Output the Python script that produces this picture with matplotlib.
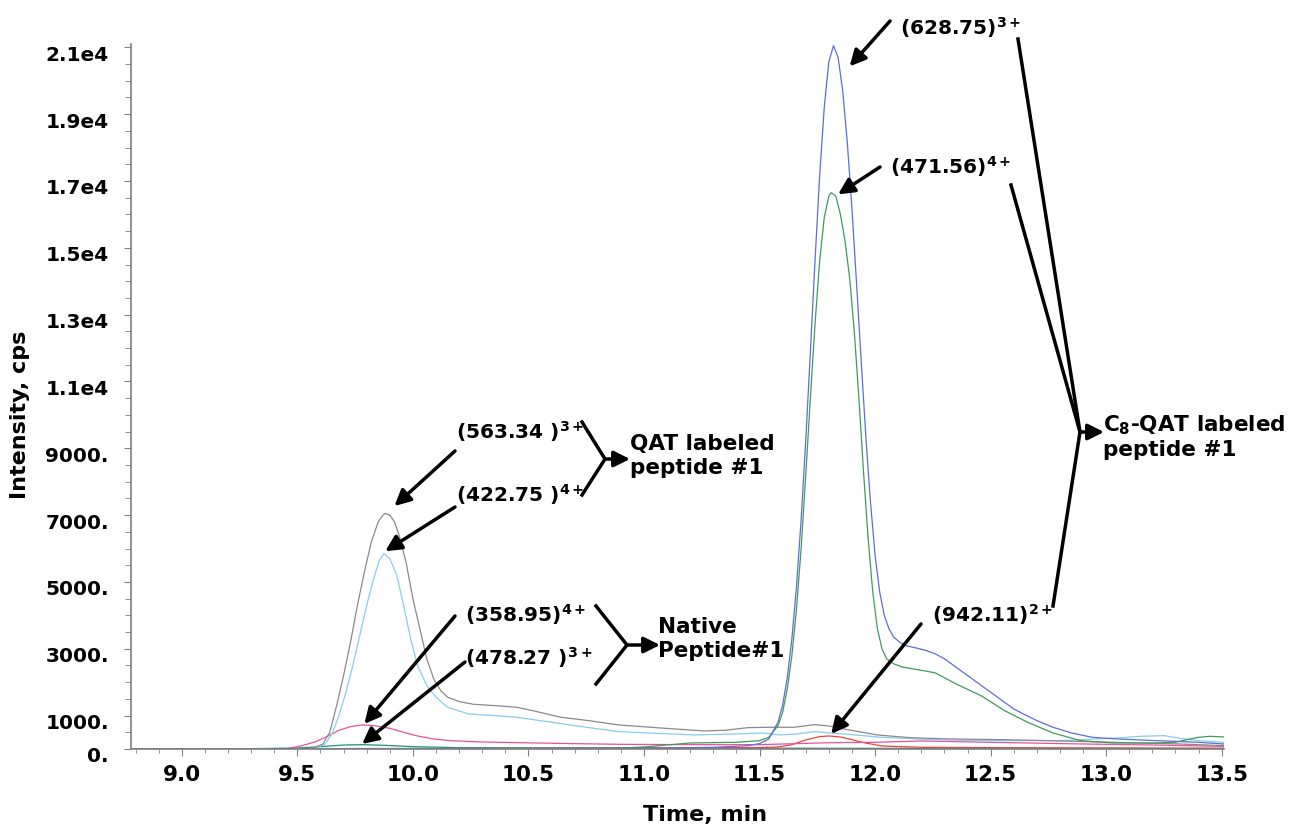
import numpy as np
import matplotlib.pyplot as plt
from matplotlib.lines import Line2D
from matplotlib.ticker import FixedLocator, MultipleLocator
import matplotlib.transforms as mtransforms

plt.rcParams['font.family'] = 'DejaVu Sans'
plt.rcParams['font.weight'] = 'bold'
plt.rcParams['mathtext.default'] = 'bf'

t_gray = [8.78, 9.45, 9.53, 9.57, 9.61, 9.64, 9.67, 9.70, 9.73, 9.76, 9.79, 9.82,
          9.85, 9.87, 9.88, 9.90, 9.92, 9.94, 9.97, 10.00, 10.03, 10.06, 10.09,
          10.12, 10.15, 10.20, 10.26, 10.35, 10.45, 10.53, 10.64, 10.76, 10.89,
          11.07, 11.26, 11.35, 11.45, 11.55, 11.65, 11.74, 11.81, 11.88, 12.01,
          12.15, 12.32, 12.55, 12.75, 13.03, 13.32, 13.51]
i_gray = [0, 0, 10, 30, 150, 500, 1300, 2200, 3200, 4300, 5300, 6200,
          6800, 7000, 7050, 7000, 6800, 6400, 5600, 4500, 3600, 2700, 2100,
          1750, 1550, 1420, 1340, 1300, 1250, 1130, 950, 850, 720,
          630, 540, 560, 640, 650, 650, 730, 680, 580, 420,
          340, 300, 280, 250, 200, 150, 100]

t_cyan = [8.78, 9.50, 9.58, 9.62, 9.65, 9.68, 9.71, 9.74, 9.77, 9.80, 9.83, 9.855,
          9.875, 9.90, 9.93, 9.96, 9.99, 10.02, 10.06, 10.10, 10.15, 10.24, 10.35,
          10.45, 10.60, 10.75, 10.89, 11.05, 11.22, 11.40, 11.51, 11.59, 11.66,
          11.74, 11.81, 11.88, 12.03, 12.25, 12.46, 12.80, 13.05, 13.15, 13.25,
          13.32, 13.40, 13.51]
i_cyan = [0, 0, 20, 150, 450, 1000, 1700, 2500, 3400, 4300, 5100, 5650,
          5850, 5700, 5200, 4300, 3300, 2500, 1900, 1550, 1250, 1050, 1000,
          950, 800, 650, 520, 470, 420, 450, 480, 420, 450,
          520, 480, 440, 350, 280, 250, 250, 330, 380, 400,
          320, 250, 200]

t_pink = [8.78, 9.45, 9.52, 9.58, 9.63, 9.68, 9.73, 9.78, 9.83, 9.90, 9.96, 10.02,
          10.09, 10.16, 10.30, 10.45, 10.70, 10.90, 11.20, 11.50, 11.81, 12.00,
          12.20, 12.50, 12.90, 13.20, 13.51]
i_pink = [0, 0, 100, 220, 380, 560, 670, 720, 700, 620, 500, 390,
          300, 250, 210, 190, 160, 140, 130, 130, 190, 200,
          240, 200, 150, 120, 80]

t_teal = [8.78, 9.30, 9.50, 9.60, 9.70, 9.78, 9.88, 10.00, 10.20, 10.50, 11.00, 12.00, 13.51]
i_teal = [0, 10, 30, 70, 120, 130, 110, 70, 40, 30, 30, 20, 20]

t_blue = [8.78, 9.50, 11.00, 11.30, 11.45, 11.50, 11.54, 11.58, 11.60, 11.62, 11.64,
          11.66, 11.68, 11.70, 11.72, 11.74, 11.76, 11.78, 11.80, 11.82, 11.84,
          11.86, 11.88, 11.90, 11.92, 11.94, 11.96, 11.98, 12.00, 12.02, 12.04,
          12.06, 12.08, 12.11, 12.14, 12.18, 12.22, 12.26, 12.30, 12.35, 12.40,
          12.45, 12.50, 12.55, 12.60, 12.65, 12.70, 12.77, 12.85, 12.94, 13.05,
          13.18, 13.30, 13.40, 13.51]
i_blue = [0, 0, 20, 50, 100, 160, 300, 800, 1320, 2130, 3300,
          4870, 6860, 9240, 11880, 14600, 17130, 19200, 20570, 21050, 20700,
          19700, 18140, 16160, 13920, 11600, 9360, 7400, 5800, 4700, 4000,
          3600, 3350, 3180, 3080, 3020, 2950, 2850, 2700, 2450, 2200,
          1950, 1700, 1450, 1200, 1020, 850, 650, 480, 350, 300,
          260, 230, 200, 150]

t_green = [8.78, 10.90, 11.00, 11.20, 11.40, 11.50, 11.54, 11.58, 11.60, 11.62,
           11.64, 11.66, 11.68, 11.70, 11.72, 11.74, 11.76, 11.78, 11.80, 11.81,
           11.83, 11.85, 11.87, 11.89, 11.91, 11.93, 11.95, 11.97, 11.99, 12.01,
           12.03, 12.05, 12.08, 12.12, 12.18, 12.26, 12.35, 12.46, 12.56, 12.66,
           12.77, 12.89, 13.03, 13.20, 13.30, 13.35, 13.40, 13.45, 13.51]
i_green = [0, 30, 60, 180, 200, 250, 350, 700, 1100, 1800,
           2800, 4200, 6000, 8200, 10500, 12700, 14600, 15900, 16550, 16650,
           16550, 16000, 15200, 14100, 12500, 10500, 8300, 6300, 4700, 3600,
           3000, 2700, 2550, 2450, 2380, 2280, 1950, 1590, 1150, 800,
           480, 250, 180, 180, 200, 280, 350, 380, 360]

t_red = [8.78, 10.00, 11.00, 11.50, 11.58, 11.64, 11.70, 11.76, 11.80, 11.85,
         11.90, 11.95, 12.03, 12.20, 12.50, 13.51]
i_red = [0, 10, 30, 40, 60, 130, 270, 370, 390, 360,
         280, 190, 90, 50, 40, 20]

y_ticks = [0, 1000, 3000, 5000, 7000, 9000, 11000, 13000, 15000, 17000, 19000, 21000]
y_labels = ['0.', '1000.', '3000.', '5000.', '7000.', '9000.', '1.1e4', '1.3e4',
            '1.5e4', '1.7e4', '1.9e4', '2.1e4']
x_ticks = [9.0, 9.5, 10.0, 10.5, 11.0, 11.5, 12.0, 12.5, 13.0, 13.5]
x_labels = ['9.0', '9.5', '10.0', '10.5', '11.0', '11.5', '12.0', '12.5', '13.0', '13.5']

########################################################################

W, H = 1294, 829
fig = plt.figure(figsize=(W/100, H/100), dpi=100)
ax = fig.add_axes([131/W, 79/H, (1224-131)/W, (750-45)/H])

# Curvas (ordem de desenho semelhante ao original).
ax.plot(t_teal, i_teal, color='#1f8f80', lw=0.9)
ax.plot(t_red, i_red, color='#e8443a', lw=0.9)
ax.plot(t_pink, i_pink, color='#e8529a', lw=0.9)
ax.plot(t_cyan, i_cyan, color='#87cdf0', lw=0.9)
ax.plot(t_gray, i_gray, color='#8a8a8a', lw=0.9)
ax.plot(t_green, i_green, color='#3d9b5c', lw=0.9)
ax.plot(t_blue, i_blue, color='#5b6fd6', lw=0.9)

ax.set_xlim(8.78, 13.51)
ax.set_ylim(0, 21100)

for s in ['top', 'right']:
  ax.spines[s].set_visible(False)
for s in ['left', 'bottom']:
  ax.spines[s].set_color('#808080')
  ax.spines[s].set_linewidth(1.2)

ax.yaxis.set_major_locator(FixedLocator(y_ticks))
ax.set_yticklabels(y_labels)
ax.yaxis.set_minor_locator(MultipleLocator(500))
ax.xaxis.set_major_locator(FixedLocator(x_ticks))
ax.set_xticklabels(x_labels)
ax.xaxis.set_minor_locator(MultipleLocator(0.1))

ax.tick_params(axis='y', which='major', length=5, color='#808080', labelsize=14.5, pad=11)
ax.tick_params(axis='y', which='minor', length=4, color='#808080')
ax.tick_params(axis='x', which='major', length=5, color='#808080', labelsize=15.5, pad=6)
ax.tick_params(axis='x', which='minor', length=3, color='#808080')

# Rótulos do eixo y ficam um pouco abaixo dos ticks.
offset = mtransforms.ScaledTranslation(0, -5/100, fig.dpi_scale_trans)
for lab in ax.get_yticklabels():
  lab.set_transform(lab.get_transform() + offset)

fig.text(705/W, 1 - 815/H, 'Time, min', ha='center', va='center', fontsize=16, fontweight='bold')
fig.text(20/W, 1 - 415/H, 'Intensity, cps', ha='center', va='center', rotation=90,
         fontsize=16, fontweight='bold')


###################### Anotações (pixels da figura). ######################
def P(x, y):
  return (x/W, 1 - y/H)

def arrow(tip, tail, tipcoords='data'):
  ax.annotate('', xy=tip, xycoords=tipcoords, xytext=P(*tail), textcoords='figure fraction',
              arrowprops=dict(arrowstyle='-|>', color='black', lw=2.5, mutation_scale=24,
                              shrinkA=0, shrinkB=0), annotation_clip=False)

def line(xs, ys):
  fx = [x/W for x in xs]
  fy = [1 - y/H for y in ys]
  fig.add_artist(Line2D(fx, fy, color='black', lw=2.5, transform=fig.transFigure))

def label(x, y, s, size=14.5):
  fig.text(x/W, 1 - (y + 7)/H, s, ha='left', va='baseline', fontsize=size, fontweight='bold')

# Picos individuais.
label(900, 28, r'(628.75)$^{3+}$')
arrow((11.89, 20430), (890, 22))
label(890, 167, r'(471.56)$^{4+}$')
arrow((11.84, 16600), (880, 168))
label(456, 432, r'(563.34 )$^{3+}$')
arrow((9.92, 7270), (455, 452))
label(456, 495, r'(422.75 )$^{4+}$')
arrow((9.88, 5920), (455, 508))
label(465, 615, r'(358.95)$^{4+}$')
arrow((9.79, 750), (455, 617))
label(465, 658, r'(478.27 )$^{3+}$')
arrow((9.78, 150), (465, 663))
label(932, 615, r'(942.11)$^{2+}$')
arrow((11.81, 450), (921, 625))

# Chaves e setas dos grupos.
line([582, 605, 582], [423, 460, 496])
arrow(P(630, 460), (605, 460), tipcoords='figure fraction')
fig.text(630/W, 1 - 456/H, 'QAT labeled\npeptide #1', ha='left', va='center',
         fontsize=15.5, fontweight='bold', linespacing=1.2)

line([596, 627, 596], [607, 646, 685])
arrow(P(660, 646), (627, 646), tipcoords='figure fraction')
fig.text(658/W, 1 - 639/H, 'Native\nPeptide#1', ha='left', va='center',
         fontsize=15.5, fontweight='bold', linespacing=1.2)

line([1018, 1080], [40, 433])
line([1011, 1080], [186, 433])
line([1053, 1080], [607, 433])
arrow(P(1104, 433), (1080, 433), tipcoords='figure fraction')
fig.text(1103/W, 1 - 437/H, 'C$_8$-QAT labeled\npeptide #1', ha='left', va='center',
         fontsize=15.5, fontweight='bold', linespacing=1.2)

fig.savefig('out.png', dpi=100)
